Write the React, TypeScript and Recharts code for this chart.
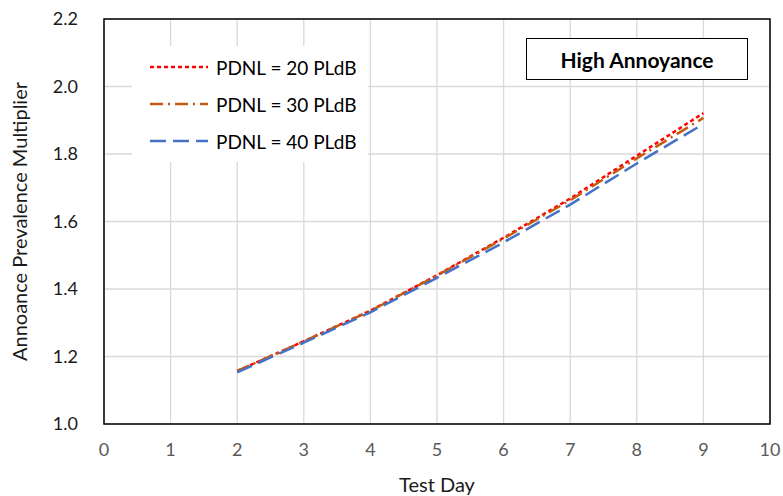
import React from "react";
import {
  CartesianGrid,
  Line,
  LineChart,
  ReferenceArea,
  XAxis,
  YAxis,
} from "recharts";

const days = [2, 3, 4, 5, 6, 7, 8, 9];
const pdnl20 = [1.157, 1.245, 1.336, 1.441, 1.552, 1.668, 1.795, 1.921];
const pdnl30 = [1.157, 1.245, 1.335, 1.44, 1.549, 1.663, 1.787, 1.907];
const pdnl40 = [1.153, 1.241, 1.331, 1.433, 1.538, 1.65, 1.772, 1.889];

const xTicks = [0, 1, 2, 3, 4, 5, 6, 7, 8, 9, 10];
const yTicks = [1.0, 1.2, 1.4, 1.6, 1.8, 2.0, 2.2];

const series = [
  { key: "p20", name: "PDNL = 20 PLdB", color: "#ff0000", dash: "4 3" },
  { key: "p30", name: "PDNL = 30 PLdB", color: "#c55a11", dash: "13 5 2 5" },
  { key: "p40", name: "PDNL = 40 PLdB", color: "#4472c4", dash: "16 7" },
];

const FONT = "Lato, 'Open Sans', sans-serif";

export default function App() {
  // one row per test day
  const data = days.map((d, i) => ({
    day: d,
    p20: pdnl20[i],
    p30: pdnl30[i],
    p40: pdnl40[i],
  }));

  return (
    <div
      style={{
        position: "absolute",
        left: 0,
        top: 0,
        width: 783,
        height: 496,
        background: "#fff",
        fontFamily: FONT,
      }}
    >
      <LineChart
        width={783}
        height={496}
        data={data}
        margin={{ top: 19, right: 13, bottom: 0, left: 0 }}
      >
        <CartesianGrid stroke="#d9d9d9" strokeWidth={1.3} />
        <XAxis
          dataKey="day"
          type="number"
          domain={[0, 10]}
          ticks={xTicks}
          axisLine={false}
          tickLine={false}
          height={72}
          tickMargin={13}
          tick={{ fill: "#595959", fontSize: 18, fontFamily: FONT }}
          label={{
            value: "Test Day",
            position: "insideBottom",
            offset: 4,
            fill: "#1a1a1a",
            fontSize: 20,
            fontFamily: FONT,
          }}
        />
        <YAxis
          type="number"
          domain={[1, 2.2]}
          ticks={yTicks}
          axisLine={false}
          tickLine={false}
          width={104}
          tickMargin={20}
          tickFormatter={(v: number) => v.toFixed(1)}
          tick={{ fill: "#1a1a1a", fontSize: 18, fontFamily: FONT }}
          label={{
            value: "Annoance Prevalence Multiplier",
            angle: -90,
            position: "insideLeft",
            offset: 20,
            style: { textAnchor: "middle" },
            fill: "#1a1a1a",
            fontSize: 20,
            fontFamily: FONT,
          }}
        />
        <ReferenceArea
          x1={0}
          x2={10}
          y1={1}
          y2={2.2}
          fill="none"
          stroke="#000"
          strokeWidth={1.5}
          ifOverflow="visible"
        />
        {series.map((s) => (
          <Line
            key={s.key}
            dataKey={s.key}
            name={s.name}
            stroke={s.color}
            strokeWidth={2.5}
            strokeDasharray={s.dash}
            dot={false}
            type="linear"
            isAnimationActive={false}
          />
        ))}
      </LineChart>

      {/* legend box */}
      <div
        style={{
          position: "absolute",
          left: 132,
          top: 46,
          width: 236,
          height: 116,
          background: "#fff",
        }}
      >
        {series.map((s, i) => (
          <div
            key={s.key}
            style={{
              position: "absolute",
              left: 18,
              top: 8 + i * 37,
              display: "flex",
              alignItems: "center",
              height: 26,
            }}
          >
            <svg width={58} height={6} style={{ marginRight: 8 }}>
              <line
                x1={0}
                y1={3}
                x2={58}
                y2={3}
                stroke={s.color}
                strokeWidth={2.5}
                strokeDasharray={s.dash}
              />
            </svg>
            <span style={{ fontSize: 19, color: "#000", whiteSpace: "nowrap" }}>
              {s.name}
            </span>
          </div>
        ))}
      </div>

      {/* title box */}
      <div
        style={{
          position: "absolute",
          left: 526,
          top: 38,
          width: 220,
          height: 40,
          border: "1.5px solid #000",
          background: "#fff",
          display: "flex",
          alignItems: "center",
          justifyContent: "center",
          fontSize: 21,
          fontWeight: 700,
          color: "#000",
        }}
      >
        High Annoyance
      </div>
    </div>
  );
}
